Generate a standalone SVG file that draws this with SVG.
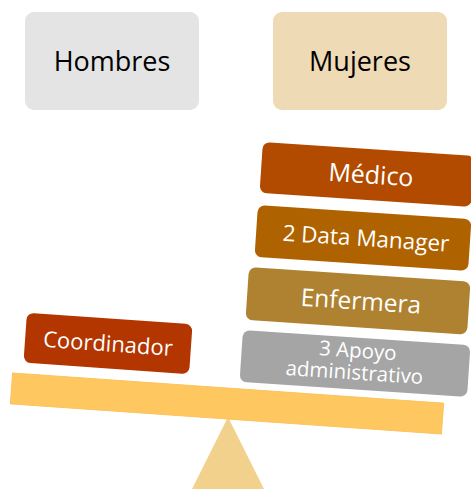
<svg xmlns="http://www.w3.org/2000/svg" width="471" height="489" viewBox="0 0 471 489">
<style>
text{font-family:"Open Sans","Noto Sans","DejaVu Sans",sans-serif;text-anchor:middle}
.w{fill:#ffffff}
.k{fill:#000000}
</style>
<rect width="471" height="489" fill="#ffffff"/>
<g id="connectors"></g>
<g id="fulcrum"><polygon points="228,417 192,489 264,489" fill="#f2d18c"/></g>
<g id="beam" transform="translate(227,403.5) rotate(4)"><rect x="-216" y="-15.5" width="432" height="31" fill="#fec760" stroke="#fbc25a" stroke-width="1"/></g>
<g id="hombres"><rect x="25" y="12" width="174" height="98" rx="9" fill="#e4e4e4"/><text class="k" x="112" y="71" font-size="27">Hombres</text></g>
<g id="mujeres"><rect x="273" y="12" width="174" height="98" rx="9" fill="#eedab5"/><text class="k" x="360" y="71" font-size="27">Mujeres</text></g>
<g id="medico" transform="translate(367,174.4) rotate(3.8)"><rect x="-106" y="-25.5" width="212" height="51" rx="7" fill="#b24a00"/><text class="w" x="4" y="8.9" font-size="25">Médico</text></g>
<g id="datamanager" transform="translate(363,238) rotate(3.8)"><rect x="-107" y="-26" width="214" height="52" rx="7" fill="#ae6300"/><text class="w" x="3" y="8" font-size="22.5">2 Data Manager</text></g>
<g id="enfermera" transform="translate(358,300.8) rotate(3.8)"><rect x="-111" y="-26.5" width="222" height="53" rx="7" fill="#ae8230"/><text class="w" x="3" y="8.7" font-size="24.5">Enfermera</text></g>
<g id="apoyo" transform="translate(355,363.5) rotate(3.8)"><rect x="-114" y="-26" width="228" height="52" rx="7" fill="#a5a5a5"/><text class="w" x="2" y="-6" font-size="20.5">3 Apoyo</text><text class="w" x="0" y="16" font-size="20.5">administrativo</text></g>
<g id="coordinador" transform="translate(108,343.4) rotate(4)"><rect x="-83" y="-25" width="166" height="50" rx="7" fill="#b33500"/><text class="w" x="0" y="8" font-size="22">Coordinador</text></g>
</svg>
